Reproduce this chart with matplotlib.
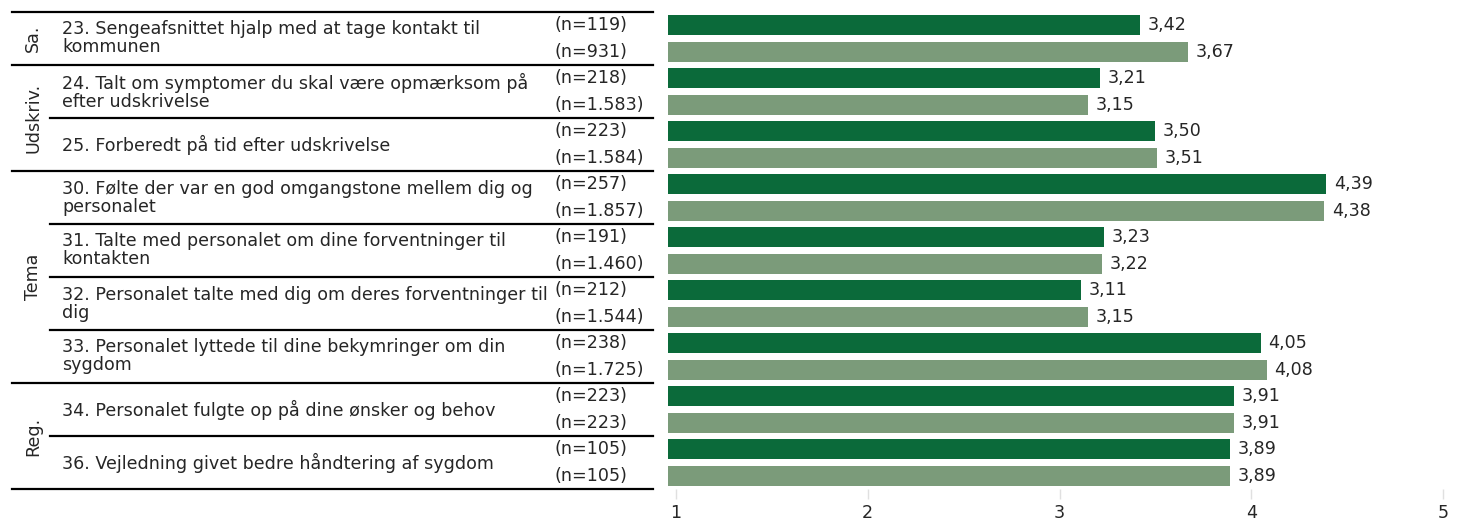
import numpy as np
import matplotlib
matplotlib.use('Agg')
import matplotlib.pyplot as plt
import matplotlib.transforms as mtransforms

# data
groups = ['Sa.', 'Udskriv.', 'Tema', 'Reg.']
group_sizes = [1, 2, 4, 2]
questions = [
    '23. Sengeafsnittet hjalp med at tage kontakt til\nkommunen',
    '24. Talt om symptomer du skal være opmærksom på\nefter udskrivelse',
    '25. Forberedt på tid efter udskrivelse',
    '30. Følte der var en god omgangstone mellem dig og\npersonalet',
    '31. Talte med personalet om dine forventninger til\nkontakten',
    '32. Personalet talte med dig om deres forventninger til\ndig',
    '33. Personalet lyttede til dine bekymringer om din\nsygdom',
    '34. Personalet fulgte op på dine ønsker og behov',
    '36. Vejledning givet bedre håndtering af sygdom',
]
n_first = ['(n=119)', '(n=218)', '(n=223)', '(n=257)', '(n=191)',
           '(n=212)', '(n=238)', '(n=223)', '(n=105)']
n_second = ['(n=931)', '(n=1.583)', '(n=1.584)', '(n=1.857)', '(n=1.460)',
            '(n=1.544)', '(n=1.725)', '(n=223)', '(n=105)']
val_first = [3.42, 3.21, 3.50, 4.39, 3.23, 3.11, 4.05, 3.91, 3.89]
val_second = [3.67, 3.15, 3.51, 4.38, 3.22, 3.15, 4.08, 3.91, 3.89]
x_ticks = [1, 2, 3, 4, 5]

dark = '#0b6a3a'
light = '#7b9b7a'
txt = '#262626'
fs = 12.6

plt.rcParams['font.family'] = ['DejaVu Sans']

W, H = 1466, 520
fig = plt.figure(figsize=(W / 100, H / 100), dpi=100)

# bar axes: value 1 at px 676, 191.75 px per unit
x0, x1 = 0.96, 5.04
left_px = 676 - (1 - x0) * 191.75
right_px = 676 + (x1 - 1) * 191.75
ax = fig.add_axes([left_px / W, (H - 489) / H, (right_px - left_px) / W, 477 / H])

nq = len(questions)
pos1 = np.arange(nq) * 2
pos2 = pos1 + 1
v1 = np.array(val_first)
v2 = np.array(val_second)
ax.barh(pos1, v1 - x0, left=x0, height=0.76, color=dark)
ax.barh(pos2, v2 - x0, left=x0, height=0.76, color=light)
for p, v in zip(pos1, v1):
    ax.text(v + 0.04, p, f'{v:.2f}'.replace('.', ','), va='center', ha='left',
            fontsize=fs, color=txt)
for p, v in zip(pos2, v2):
    ax.text(v + 0.04, p, f'{v:.2f}'.replace('.', ','), va='center', ha='left',
            fontsize=fs, color=txt)

ax.set_xlim(x0, x1)
ax.set_ylim(2 * nq - 0.5, -0.5)
ax.set_yticks([])
ax.set_xticks(x_ticks)
ax.set_xticklabels([str(t) for t in x_ticks], fontsize=fs, color=txt)
ax.tick_params(axis='x', length=7, width=1, color='#e0e0e0', pad=4)
for s in ax.spines.values():
    s.set_visible(False)

# table on the left, x in figure fraction, y in row units
tr = mtransforms.blended_transform_factory(fig.transFigure, ax.transData)
lx_group = 12 / W
lx_inner = 50 / W
lx_end = 653 / W
x_label = 33 / W
x_q = 62 / W
x_n = 555 / W

ax.plot([lx_group, lx_end], [-0.5, -0.5], color='black', lw=1.6,
        transform=tr, clip_on=False)
qi = 0
for g, size in zip(groups, group_sizes):
    start = qi
    for k in range(size):
        yc = 2 * qi + 0.5
        ax.text(x_q, yc, questions[qi], transform=tr, va='center', ha='left',
                fontsize=fs, color=txt, linespacing=1.0)
        ax.text(x_n, 2 * qi, n_first[qi], transform=tr, va='center',
                ha='left', fontsize=fs, color=txt)
        ax.text(x_n, 2 * qi + 1, n_second[qi], transform=tr, va='center',
                ha='left', fontsize=fs, color=txt)
        ybot = 2 * qi + 1.5
        last = k == size - 1
        ax.plot([lx_group if last else lx_inner, lx_end], [ybot, ybot],
                color='black', lw=1.6, transform=tr, clip_on=False)
        qi += 1
    ymid = (2 * start - 0.5 + 2 * qi - 0.5) / 2
    ax.text(x_label, ymid, g, transform=tr, rotation=90, va='center',
            ha='center', fontsize=fs, color=txt)

fig.savefig('out.png', dpi=100)
